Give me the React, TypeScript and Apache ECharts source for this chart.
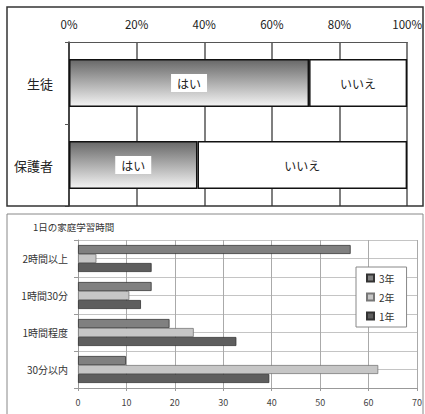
import React, { useEffect, useRef } from "react";
import * as echarts from "echarts";

// Top chart (100% stacked)
const topCategories = ["保護者", "生徒"];
const yesValues = [38, 71];
const noValues = [62, 29];
const percentTicks = ["0%", "20%", "40%", "60%", "80%", "100%"];

// Bottom chart (grouped)
const studyTitle = "1日の家庭学習時間";
const studyCategories = ["30分以内", "1時間程度", "1時間30分", "2時間以上"];
const grade1 = [39.5, 32.7, 13.0, 15.2];
const grade2 = [62.0, 23.9, 10.6, 3.8];
const grade3 = [9.9, 18.9, 15.2, 56.3];
const gradeNames = ["3年", "2年", "1年"];

const FONT = "'Noto Sans CJK JP', 'Noto Sans', sans-serif";

export default function App() {
  const ref = useRef<HTMLDivElement>(null);
  useEffect(() => {
    if (!ref.current) return;
    const chart = echarts.init(ref.current, undefined, { renderer: "svg" });
    const gradient = new echarts.graphic.LinearGradient(0, 0, 0, 1, [
      { offset: 0, color: "#686868" },
      { offset: 1, color: "#f4f4f4" },
    ]);
    chart.setOption({
      animation: false,
      backgroundColor: "#fff",
      textStyle: { fontFamily: FONT },
      graphic: [
        {
          type: "rect",
          shape: { x: 7, y: 7, width: 416, height: 199 },
          style: { fill: "none", stroke: "#333", lineWidth: 1.5 },
          z: 100,
        },
        {
          type: "rect",
          shape: { x: 7, y: 214, width: 416, height: 210 },
          style: { fill: "none", stroke: "#888", lineWidth: 1 },
          z: 100,
        },
        {
          type: "text",
          x: 33,
          y: 222,
          style: { text: studyTitle, fontSize: 9.5, fill: "#333", fontFamily: FONT },
        },
      ],
      legend: {
        data: gradeNames,
        orient: "vertical",
        left: 356,
        top: 267,
        itemWidth: 7,
        itemHeight: 7,
        itemGap: 9,
        padding: [6, 12, 6, 10],
        borderColor: "#888",
        borderWidth: 1,
        backgroundColor: "#fff",
        icon: "rect",
        textStyle: { fontSize: 10, color: "#333", fontFamily: FONT },
      },
      grid: [
        { left: 69, right: 17, top: 42, height: 164 },
        { left: 78, right: 7, top: 240, height: 148 },
      ],
      xAxis: [
        {
          gridIndex: 0,
          type: "value",
          position: "top",
          min: 0,
          max: 100,
          interval: 20,
          axisLabel: {
            formatter: (v: number) => percentTicks[Math.round(v / 20)],
            fontSize: 11.5,
            color: "#222",
            margin: 12,
            fontFamily: FONT,
          },
          axisLine: { show: true, lineStyle: { color: "#555", width: 1.2 } },
          axisTick: { show: false },
          splitLine: { show: true, lineStyle: { color: "#555", width: 1.5 } },
        },
        {
          gridIndex: 1,
          type: "value",
          min: 0,
          max: 70,
          interval: 10,
          axisLabel: { fontSize: 9, color: "#444", margin: 10, fontFamily: FONT },
          axisLine: { show: true, lineStyle: { color: "#999" } },
          axisTick: { show: true, length: 3, lineStyle: { color: "#999" } },
          splitLine: { show: true, lineStyle: { color: "#aaa", width: 1 } },
        },
      ],
      yAxis: [
        {
          gridIndex: 0,
          type: "category",
          data: topCategories,
          axisLabel: { fontSize: 13, color: "#222", margin: 16, fontFamily: FONT },
          axisLine: { show: true, lineStyle: { color: "#333", width: 1.5 } },
          axisTick: { show: true, length: 4, lineStyle: { color: "#555" } },
          splitLine: { show: false },
        },
        {
          gridIndex: 1,
          type: "category",
          data: studyCategories,
          axisLabel: { fontSize: 10, color: "#333", margin: 10, fontFamily: FONT },
          axisLine: { show: true, lineStyle: { color: "#999" } },
          axisTick: { show: true, length: 4, lineStyle: { color: "#999" } },
          splitLine: { show: false },
        },
        {
          gridIndex: 1,
          type: "value",
          min: 0,
          max: 8,
          interval: 1,
          axisLabel: { show: false },
          axisLine: { show: false },
          axisTick: { show: false },
          splitLine: { show: true, lineStyle: { color: "#c4c4c4", width: 1 } },
        },
      ],
      series: [
        {
          name: "はい",
          type: "bar",
          stack: "t",
          xAxisIndex: 0,
          yAxisIndex: 0,
          barWidth: 48,
          data: yesValues,
          itemStyle: { color: gradient, borderColor: "#111", borderWidth: 1.5 },
          label: {
            show: true,
            position: "inside",
            formatter: "はい",
            backgroundColor: "#fff",
            padding: [3, 6],
            fontSize: 12,
            color: "#222",
            fontFamily: FONT,
          },
        },
        {
          name: "いいえ",
          type: "bar",
          stack: "t",
          xAxisIndex: 0,
          yAxisIndex: 0,
          barWidth: 48,
          data: noValues,
          itemStyle: { color: "#fff", borderColor: "#111", borderWidth: 1.5 },
          label: {
            show: true,
            position: "inside",
            formatter: "いいえ",
            fontSize: 12,
            color: "#222",
            fontFamily: FONT,
          },
        },
        {
          name: "3年",
          type: "bar",
          xAxisIndex: 1,
          yAxisIndex: 1,
          barWidth: 9,
          barGap: "0%",
          data: grade3,
          itemStyle: { color: "#808080", borderColor: "#333", borderWidth: 0.8 },
        },
        {
          name: "2年",
          type: "bar",
          xAxisIndex: 1,
          yAxisIndex: 1,
          barWidth: 9,
          barGap: "0%",
          data: grade2,
          itemStyle: { color: "#c6c6c6", borderColor: "#777", borderWidth: 0.8 },
        },
        {
          name: "1年",
          type: "bar",
          xAxisIndex: 1,
          yAxisIndex: 1,
          barWidth: 9,
          barGap: "0%",
          data: grade1,
          itemStyle: { color: "#5e5e5e", borderColor: "#333", borderWidth: 0.8 },
        },
      ],
    });
    return () => chart.dispose();
  }, []);
  return (
    <div
      ref={ref}
      style={{ position: "fixed", left: 0, top: 0, width: 425, height: 414 }}
    />
  );
}
